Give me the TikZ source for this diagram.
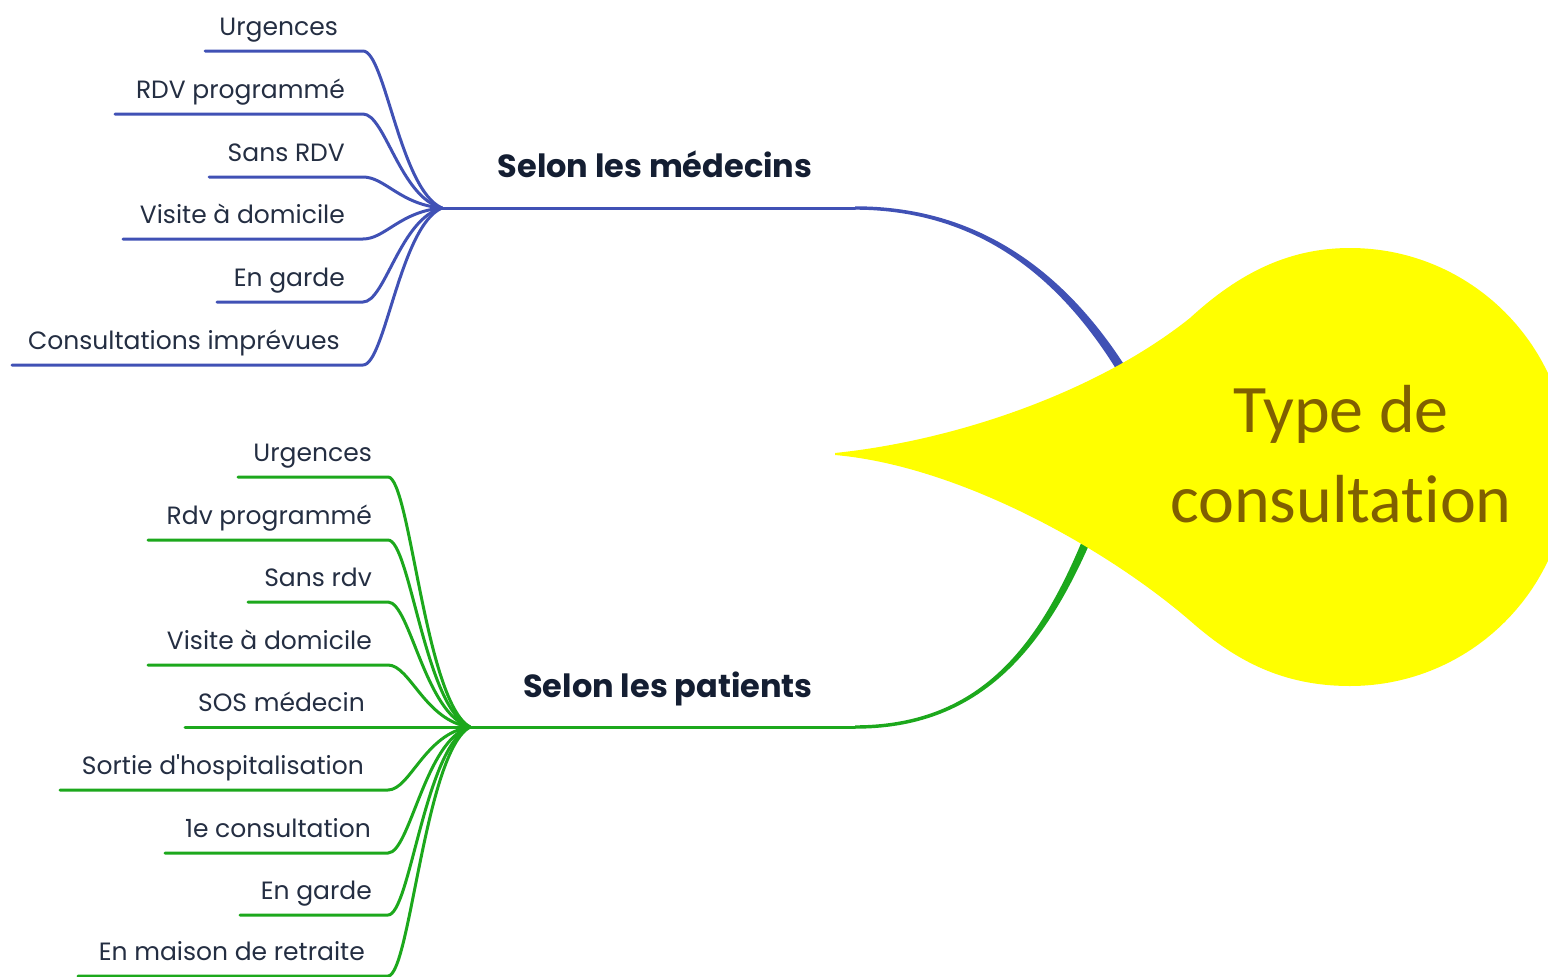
\documentclass[tikz,border=0pt]{standalone}
\usepackage{fontspec}
\setmainfont{Poppins}
\newfontfamily\calib[Ligatures=NoCommon]{Carlito}
\definecolor{blu}{RGB}{64,81,181}
\definecolor{grn}{RGB}{28,168,28}
\definecolor{txt}{RGB}{36,46,66}
\definecolor{headc}{RGB}{20,30,50}
\definecolor{yel}{RGB}{255,255,0}
\definecolor{olive}{RGB}{128,96,0}
\begin{document}
\begin{tikzpicture}[x=1pt,y=-1pt,
  lbl/.style={font=\fontsize{25}{25}\selectfont, text=txt, anchor=base east, inner sep=0},
  headlbl/.style={font=\fontsize{32}{32}\selectfont\bfseries, text=headc, anchor=base, inner sep=0},
  rootlbl/.style={font=\calib\fontsize{68}{68}\selectfont, text=olive, anchor=base, inner sep=0},
  bl/.style={draw=blu, line width=3pt, line cap=round},
  gl/.style={draw=grn, line width=3pt, line cap=round}]
\useasboundingbox (0,0) rectangle (1548,977);
% hubs
\coordinate (hubB) at (442,208);
\coordinate (hubG) at (470,727);
\coordinate (bJ) at (855,208);
\coordinate (gJ) at (855,727);
% blue children
\foreach \y/\xs/\xt/\t [count=\i] in {51/205/338/Urgences,114/115/345/RDV programmé,177/209/345/Sans RDV,239/123/345/Visite à domicile,302/217/345/En garde,365/12/340/Consultations imprévues}{
  \node[lbl] (b\i) at (\xt,\y-16) {\t};
  \coordinate (bs\i) at (\xs,\y);
  \coordinate (be\i) at (363,\y);
  \draw[bl] (bs\i) -- (be\i) .. controls +(22,0) and (400,{208+(\y-208)*0.115}) .. (hubB);
}
% green children
\foreach \y/\xs/\xt/\t [count=\i] in {477/238/372/Urgences,540/148/372/Rdv programmé,602/248/372/Sans rdv,665/148/372/Visite à domicile,790/60/364/Sortie d\textquotesingle hospitalisation,853/165/371/1e consultation,915/240/372/En garde,976/78/365/En maison de retraite}{
  \node[lbl] (g\i) at (\xt,\y-16) {\t};
  \coordinate (gs\i) at (\xs,\y);
  \coordinate (ge\i) at (388,\y);
  \draw[gl] (gs\i) -- (ge\i) .. controls +(22,0) and (425,{727+(\y-727)*0.1}) .. (hubG);
}
\node[lbl] (gsos) at (365,711) {SOS médecin};
\coordinate (gsosS) at (185,727);
\draw[gl] (gsosS) -- (hubG);
% main branches
\draw[bl] (hubB) -- (bJ);
\draw[gl] (hubG) -- (gJ);
\fill[blu] (855,206.3) .. controls (1001,206.1) and (1094,298.2) .. (1154.5,417.8)
  -- (1145.5,422.2) .. controls (1086,301.8) and (999,209.9) .. (855,209.7) -- cycle;
\fill[grn] (855,728.7) .. controls (1000,728.9) and (1063.5,621.5) .. (1114.2,481.5)
  -- (1105.8,478.5) .. controls (1056.5,618.5) and (1000,725.1) .. (855,725.3) -- cycle;
\node[headlbl] (hb) at (655,177) {Selon les médecins};
\node[headlbl] (hg) at (668,697) {Selon les patients};
% root teardrop
\fill[yel] (835,453) .. controls (960,440) and (1100,390) .. (1190,318)
  .. controls (1240,272) and (1290,248) .. (1350,248)
  .. controls (1471,248) and (1569,346) .. (1569,467)
  .. controls (1569,588) and (1471,686) .. (1350,686)
  .. controls (1282,686) and (1236,660) .. (1195,625)
  .. controls (1110,550) and (960,466) .. (835,455) -- cycle;
\node[rootlbl] (r1) at (1341,432) {Type de};
\node[rootlbl] (r2) at (1341,522) {consultat\kern0pt ion};
\end{tikzpicture}
\end{document}
